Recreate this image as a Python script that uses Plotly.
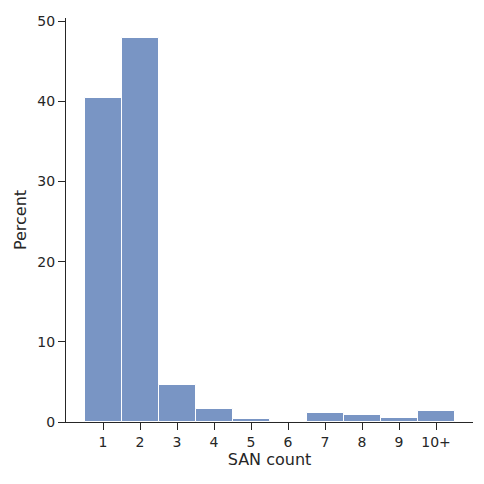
import plotly.graph_objects as go

# SAN count categories and share of certificates (percent)
categories = ["1", "2", "3", "4", "5", "6", "7", "8", "9", "10+"]
percent = [40.4, 47.9, 4.6, 1.6, 0.4, 0.15, 1.1, 0.9, 0.5, 1.4]
y_ticks = [0, 10, 20, 30, 40, 50]

positions = list(range(1, len(categories) + 1))

fig = go.Figure(go.Bar(
    x=positions,
    y=percent,
    width=1,
    marker=dict(color="rgba(76,114,176,0.75)", line=dict(color="white", width=1)),
))

axis_font = dict(family="DejaVu Sans", size=16, color="#262626")
tick_font = dict(family="DejaVu Sans", size=14, color="#262626")

# page body has an 8px margin, so the figure is a bit smaller than the window
fig.update_layout(
    width=476, height=476,
    margin=dict(l=58, r=11, t=5, b=62),
    plot_bgcolor="white", paper_bgcolor="white",
    showlegend=False,
    bargap=0,
)
fig.update_xaxes(
    range=[0, 11],
    tickvals=positions, ticktext=categories,
    title=dict(text="SAN count", font=axis_font, standoff=4),
    tickfont=tick_font,
    showgrid=False, zeroline=False,
    showline=True, linecolor="#262626", linewidth=1.25,
    ticks="outside", ticklen=7, tickwidth=1.25, tickcolor="#262626",
)
fig.update_yaxes(
    range=[0, 50.4],
    tickvals=y_ticks,
    title=dict(text="Percent", font=axis_font, standoff=6),
    tickfont=tick_font,
    showgrid=False, zeroline=False,
    showline=True, linecolor="#262626", linewidth=1.25,
    ticks="outside", ticklen=7, tickwidth=1.25, tickcolor="#262626",
)

fig.write_html("out.html")
